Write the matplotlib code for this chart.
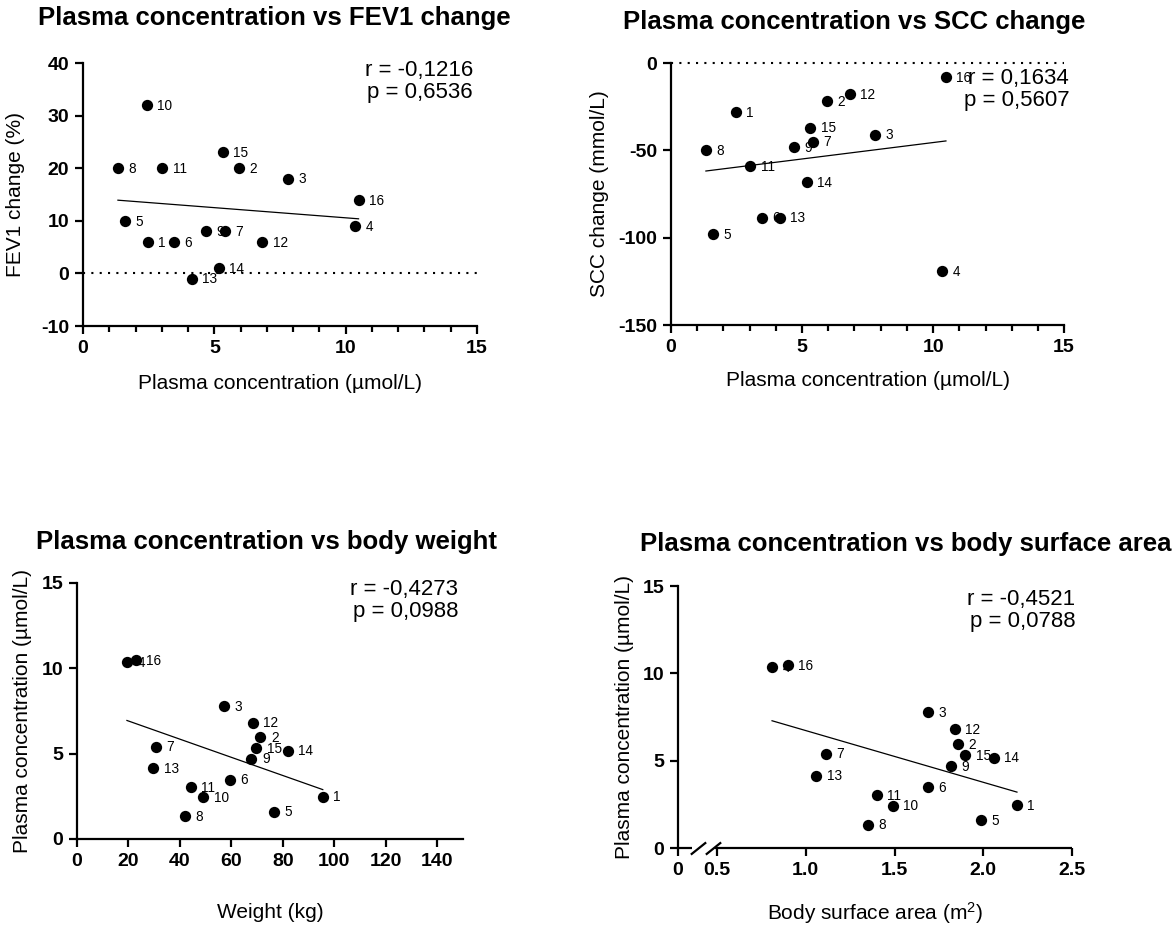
import numpy as np
import matplotlib
matplotlib.use('Agg')
import matplotlib.pyplot as plt
from matplotlib.ticker import MultipleLocator, FixedLocator

plt.rcParams['font.family'] = ['Liberation Sans', 'DejaVu Sans']
plt.rcParams['mathtext.fontset'] = 'custom'
plt.rcParams['mathtext.rm'] = 'Liberation Sans'
plt.rcParams['mathtext.default'] = 'regular'
plt.rcParams['axes.unicode_minus'] = False

# patient numbers 1..16
patients = np.arange(1, 17)
plasma = np.array([2.47, 5.95, 7.8, 10.35, 1.6, 3.47, 5.4, 1.33,
                   4.7, 2.43, 3.02, 6.82, 4.14, 5.18, 5.32, 10.49])
fev1 = np.array([6, 20, 18, 9, 10, 6, 8, 20, 8, 32, 20, 6, -1, 1, 23, 14])
scc = np.array([-28, -22, -41, -119, -98, -88.5, -45, -50, -48, np.nan,
                -59, -18, -88.5, -68, -37, -8])
weight = np.array([95.5, 71.3, 57.3, 19.4, 76.5, 59.4, 30.5, 42.1,
                   67.8, 49.0, 44.1, 68.3, 29.6, 81.9, 69.6, 22.9])
bsa = np.array([2.19, 1.86, 1.69, 0.81, 1.99, 1.69, 1.115, 1.35,
                1.82, 1.49, 1.40, 1.84, 1.06, 2.06, 1.90, 0.90])

titles = ["Plasma concentration vs FEV1 change",
          "Plasma concentration vs SCC change",
          "Plasma concentration vs body weight",
          "Plasma concentration vs body surface area"]
stats = ["r = -0,1216\np = 0,6536",
         "r = 0,1634\np = 0,5607",
         "r = -0,4273\np = 0,0988",
         "r = -0,4521\np = 0,0788"]

LW = 1.6


def style_axes(ax):
    for s in ['top', 'right']:
        ax.spines[s].set_visible(False)
    for s in ['left', 'bottom']:
        ax.spines[s].set_linewidth(LW)
    ax.tick_params(which='major', length=6, width=LW, labelsize=14, pad=4)
    ax.tick_params(which='minor', length=4, width=LW)


def scatter_panel(ax, x, y, txt, txtpos):
    ok = ~np.isnan(x) & ~np.isnan(y)
    ax.scatter(x[ok], y[ok], s=66, color='k', zorder=3, clip_on=False, linewidths=0)
    for px, py, n in zip(x[ok], y[ok], patients[ok]):
        ax.annotate(str(n), (px, py), xytext=(7.5, -0.5), textcoords='offset points',
                    ha='left', va='center', fontsize=9.8, zorder=2.5)
    slope, icpt = np.polyfit(x[ok], y[ok], 1)
    xs = np.array([x[ok].min(), x[ok].max()])
    ax.plot(xs, slope * xs + icpt, color='k', lw=0.9, zorder=2)
    ax.text(txtpos[0], txtpos[1], txt, transform=ax.transAxes, ha='right',
            va='center', fontsize=16, linespacing=1.05, multialignment='right')


def labels(ax, xl, yl, xy_x, xy_y):
    ax.set_xlabel(xl, fontsize=15)
    ax.set_ylabel(yl, fontsize=15)
    ax.xaxis.set_label_coords(0.5, xy_x)
    ax.yaxis.set_label_coords(xy_y, 0.5)
    ax.xaxis.label.set_va('center')
    ax.yaxis.label.set_va('center')
    plt.setp(ax.get_xticklabels() + ax.get_yticklabels(), fontweight='bold')


fig = plt.figure(figsize=(11.74, 9.26), dpi=100)

# FEV1
ax1 = fig.add_axes([0.0707, 0.6479, 0.3356, 0.2840])
style_axes(ax1)
ax1.axhline(0, color='k', lw=1.5, ls=(0, (1, 3)), zorder=1)
scatter_panel(ax1, plasma, fev1, stats[0], (0.99, 0.929))
ax1.set_xlim(0, 15)
ax1.set_ylim(-10, 40)
ax1.xaxis.set_major_locator(MultipleLocator(5))
ax1.xaxis.set_minor_locator(MultipleLocator(1))
ax1.yaxis.set_major_locator(MultipleLocator(10))
labels(ax1, "Plasma concentration (µmol/L)", "FEV1 change (%)", -0.217, -0.172)

# SCC
ax2 = fig.add_axes([0.5716, 0.6490, 0.3348, 0.2829])
style_axes(ax2)
ax2.axhline(0, color='k', lw=1.5, ls=(0, (1, 3)), zorder=1, clip_on=False)
scatter_panel(ax2, plasma, scc, stats[1], (1.013, 0.899))
ax2.set_xlim(0, 15)
ax2.set_ylim(-150, 0)
ax2.xaxis.set_major_locator(MultipleLocator(5))
ax2.xaxis.set_minor_locator(MultipleLocator(1))
ax2.yaxis.set_major_locator(MultipleLocator(50))
labels(ax2, "Plasma concentration (µmol/L)", "SCC change (mmol/L)", -0.21, -0.183)

# body weight
ax3 = fig.add_axes([0.0656, 0.0940, 0.3288, 0.2765])
style_axes(ax3)
scatter_panel(ax3, weight, plasma, stats[2], (0.987, 0.932))
ax3.set_xlim(0, 150)
ax3.set_ylim(0, 15)
ax3.xaxis.set_major_locator(FixedLocator(np.arange(0, 141, 20)))
ax3.yaxis.set_major_locator(MultipleLocator(5))
labels(ax3, "Weight (kg)", "Plasma concentration (µmol/L)", -0.289, -0.140)

# body surface area, with a broken axis between 0 and 0.5
K = 0.44


def fwd(v):
    v = np.asarray(v, dtype=float)
    return np.where(v >= 0.5, v, 0.5 - (0.5 - v) * K)


def inv(v):
    v = np.asarray(v, dtype=float)
    return np.where(v >= 0.5, v, 0.5 - (0.5 - v) / K)


ax4 = fig.add_axes([0.5775, 0.0842, 0.3356, 0.2829])
style_axes(ax4)
ax4.set_xscale('function', functions=(fwd, inv))
scatter_panel(ax4, bsa, plasma, stats[3], (1.008, 0.908))
ax4.set_xlim(0, 2.5)
ax4.set_ylim(0, 15)
ax4.xaxis.set_major_locator(FixedLocator([0, 0.5, 1.0, 1.5, 2.0, 2.5]))
ax4.xaxis.set_minor_locator(FixedLocator([]))
ax4.set_xticklabels(["0", "0.5", "1.0", "1.5", "2.0", "2.5"])
ax4.yaxis.set_major_locator(MultipleLocator(5))
ax4.spines['bottom'].set_visible(False)
ax4.plot([0, 0.18], [0, 0], color='k', lw=LW, clip_on=False, solid_capstyle='butt')
ax4.plot([0.47, 2.5], [0, 0], color='k', lw=LW, clip_on=False, solid_capstyle='butt')
ax4.plot([0.25, 0.45], [0, 0], ls='none', marker=[(-1, -0.8), (1, 0.8)],
         markersize=11, mew=LW, color='k', clip_on=False)
labels(ax4, "Body surface area (m$^{2}$)", "Plasma concentration (µmol/L)", -0.248, -0.135)

# titles
fig.text(0.234, 0.9806, titles[0], ha='center', va='center', fontsize=18.5, fontweight='bold')
fig.text(0.728, 0.976, titles[1], ha='center', va='center', fontsize=18.5, fontweight='bold')
fig.text(0.2274, 0.4147, titles[2], ha='center', va='center', fontsize=18.5, fontweight='bold')
fig.text(0.7717, 0.4125, titles[3], ha='center', va='center', fontsize=18.5, fontweight='bold')

fig.savefig('out.png', dpi=100)
